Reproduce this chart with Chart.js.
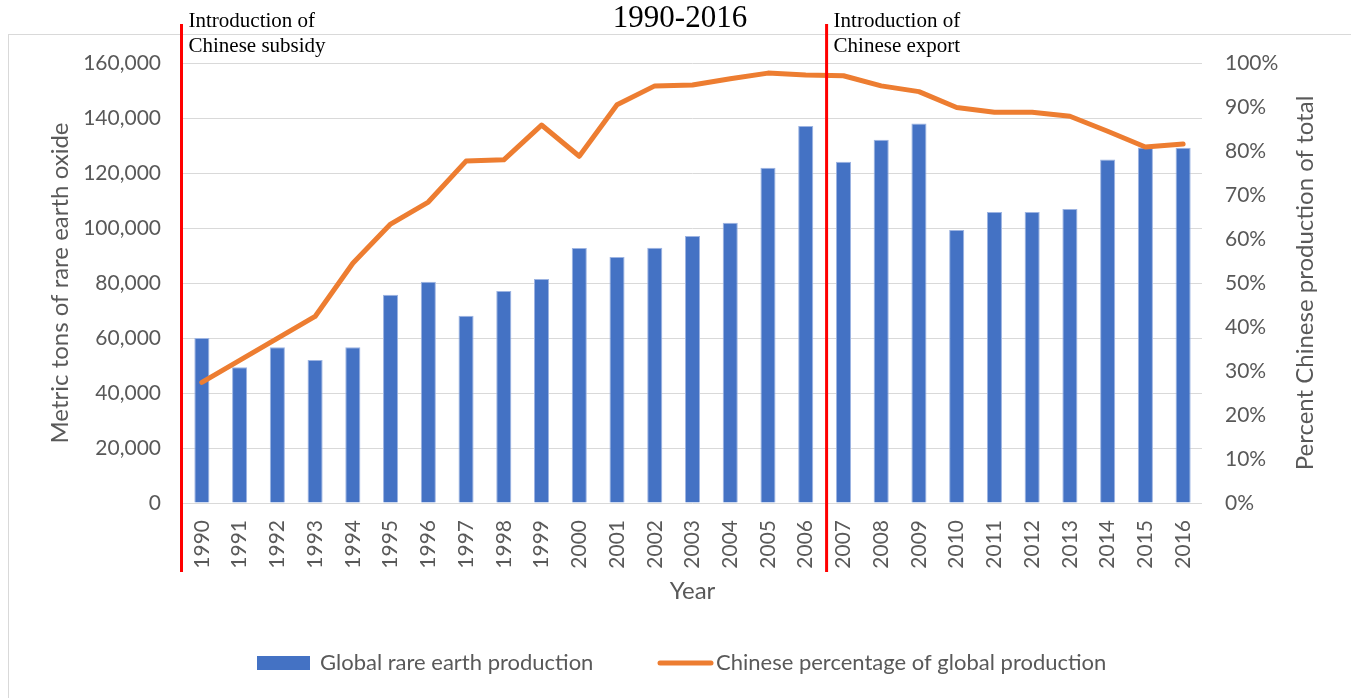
<!DOCTYPE html>
<html>
<head>
<meta charset="utf-8">
<script src="https://cdn.jsdelivr.net/npm/chart.js@4.4.1/dist/chart.umd.min.js"></script>
<style>
  html, body { margin: 0; padding: 0; background: #fff; }
  #wrap { position: relative; width: 1351px; height: 698px; }
</style>
</head>
<body>
<div id="wrap"><canvas id="myChart" width="1351" height="698"></canvas></div>
<script>
// ------------------------Data------------------------------------
const years = ['1990', '1991', '1992', '1993', '1994', '1995', '1996', '1997', '1998', '1999',
  '2000', '2001', '2002', '2003', '2004', '2005', '2006', '2007', '2008', '2009',
  '2010', '2011', '2012', '2013', '2014', '2015', '2016']
const globalProduction = [60000, 49400, 56600, 52000, 56600, 75700, 80500, 68100, 77100, 81500,
  92700, 89500, 92800, 97100, 101900, 121900, 137100, 124100, 132100, 138000,
  99300, 105800, 105800, 106900, 124900, 129300, 129200]
const chinesePercent = [27.4, 32.4, 37.4, 42.4, 54.5, 63.4, 68.4, 77.7, 78.0, 85.9,
  78.8, 90.5, 94.8, 95.0, 96.4, 97.7, 97.3, 97.1, 94.8, 93.5,
  89.9, 88.8, 88.8, 87.9, 84.5, 80.9, 81.6]
const leftTicks = [0, 20000, 40000, 60000, 80000, 100000, 120000, 140000, 160000]
const rightTicks = [0, 10, 20, 30, 40, 50, 60, 70, 80, 90, 100]
const eventYears = ['1990', '2007']
const eventLabels = [['Introduction of', 'Chinese subsidy'], ['Introduction of', 'Chinese export']]
const chartTitle = '1990-2016'
const rightTitle = 'Percent Chinese production of total'

const sansFont = 'Lato, "Open Sans", sans-serif'
const serifFont = '"Liberation Serif", "Times New Roman", serif'
const grey = '#595959'
const gridGrey = '#D9D9D9'

// ------------------------Extra drawing (frame, title, events, legend)------------
const decorPlugin = {
  id: 'decor',
  beforeDraw(chart) {
    const ctx = chart.ctx
    ctx.save()
    ctx.strokeStyle = gridGrey
    ctx.lineWidth = 1
    ctx.strokeRect(8.5, 34.5, 1400, 700)
    ctx.restore()
  },
  afterDatasetsDraw(chart) {
    const ctx = chart.ctx
    const x = chart.scales.x
    const area = chart.chartArea
    ctx.save()
    // red event lines, between categories
    eventYears.forEach((yr, i) => {
      const idx = years.indexOf(yr)
      const px = x.getPixelForValue(idx) - x.width / years.length / 2 + (i === 0 ? -1.5 : 2)
      ctx.strokeStyle = '#FF0000'
      ctx.lineWidth = 3
      ctx.beginPath()
      ctx.moveTo(px, 24)
      ctx.lineTo(px, 572)
      ctx.stroke()

      ctx.fillStyle = '#000'
      ctx.font = '21px ' + serifFont
      ctx.textAlign = 'left'
      ctx.textBaseline = 'alphabetic'
      eventLabels[i].forEach((t, j) => ctx.fillText(t, px + 7, 27 + j * 25))
    })

    // clipped title
    ctx.fillStyle = '#000'
    ctx.font = '31px ' + serifFont
    ctx.textAlign = 'center'
    ctx.fillText(chartTitle, 680, 27)

    // right axis title, reading upwards
    ctx.save()
    ctx.translate(1305, (area.top + area.bottom) / 2)
    ctx.rotate(-Math.PI / 2)
    ctx.font = '24px ' + sansFont
    ctx.fillStyle = grey
    ctx.textAlign = 'center'
    ctx.textBaseline = 'middle'
    ctx.fillText(rightTitle, 0, 0)
    ctx.restore()

    // legend
    const ds = chart.data.datasets
    ctx.font = '22px ' + sansFont
    ctx.textAlign = 'left'
    ctx.textBaseline = 'middle'
    ctx.fillStyle = ds[1].backgroundColor
    ctx.fillRect(257, 656, 53, 14)
    ctx.fillStyle = grey
    ctx.fillText(ds[1].label, 320, 663)

    ctx.strokeStyle = ds[0].borderColor
    ctx.lineWidth = 5
    ctx.lineCap = 'round'
    ctx.beginPath()
    ctx.moveTo(660, 663)
    ctx.lineTo(711, 663)
    ctx.stroke()
    ctx.fillStyle = grey
    ctx.fillText(ds[0].label, 716, 663)
    ctx.restore()
  }
}

// ------------------------Chart------------------------------------
const chartCanvas = document.getElementById('myChart')
const myChart = new Chart(chartCanvas, {
  data: {
    labels: years,
    datasets: [{
      type: 'line',
      label: 'Chinese percentage of global production',
      data: chinesePercent,
      yAxisID: 'y1',
      borderColor: '#ED7D31',
      backgroundColor: '#ED7D31',
      borderWidth: 5,
      borderCapStyle: 'round',
      borderJoinStyle: 'round',
      pointRadius: 0,
      tension: 0,
      order: 0
    }, {
      type: 'bar',
      label: 'Global rare earth production',
      data: globalProduction,
      yAxisID: 'y',
      backgroundColor: '#4472C4',
      borderColor: '#9DB4E2',
      borderWidth: 1,
      borderSkipped: 'bottom',
      barPercentage: 0.4,
      categoryPercentage: 1,
      order: 1
    }]
  },
  options: {
    responsive: false,
    animation: false,
    maintainAspectRatio: false,
    layout: { padding: { top: 63, left: 0, right: 0, bottom: 0 } },
    plugins: {
      legend: { display: false },
      title: { display: false },
      tooltip: { enabled: false }
    },
    scales: {
      x: {
        grid: { display: false, drawTicks: false },
        border: { display: false },
        ticks: {
          color: grey,
          font: { family: sansFont, size: 21 },
          minRotation: 90,
          maxRotation: 90,
          autoSkip: false,
          padding: 17
        },
        title: {
          display: true,
          text: 'Year',
          color: grey,
          font: { family: sansFont, size: 24 },
          padding: { top: 0, bottom: 92 }
        },
        afterFit: (s) => { s.height = 195 }
      },
      y: {
        position: 'left',
        min: 0,
        max: 160000,
        afterBuildTicks: (s) => { s.ticks = leftTicks.map(v => ({ value: v })) },
        grid: { color: gridGrey, lineWidth: 1, drawTicks: false },
        border: { display: false },
        ticks: {
          color: grey,
          font: { family: sansFont, size: 21 },
          padding: 22,
          callback: (v) => v.toLocaleString('en-US')
        },
        title: {
          display: true,
          text: 'Metric tons of rare earth oxide',
          color: grey,
          font: { family: sansFont, size: 24 },
          padding: { top: 46, bottom: 0 }
        },
        afterFit: (s) => { s.width = 183 }
      },
      y1: {
        position: 'right',
        min: 0,
        max: 100,
        afterBuildTicks: (s) => { s.ticks = rightTicks.map(v => ({ value: v })) },
        grid: { display: false, drawTicks: false },
        border: { display: false },
        ticks: {
          color: grey,
          font: { family: sansFont, size: 21 },
          padding: 23,
          callback: (v) => v + '%'
        },
        title: { display: false },
        afterFit: (s) => { s.width = 149 }
      }
    }
  },
  plugins: [decorPlugin]
})
</script>
</body>
</html>
